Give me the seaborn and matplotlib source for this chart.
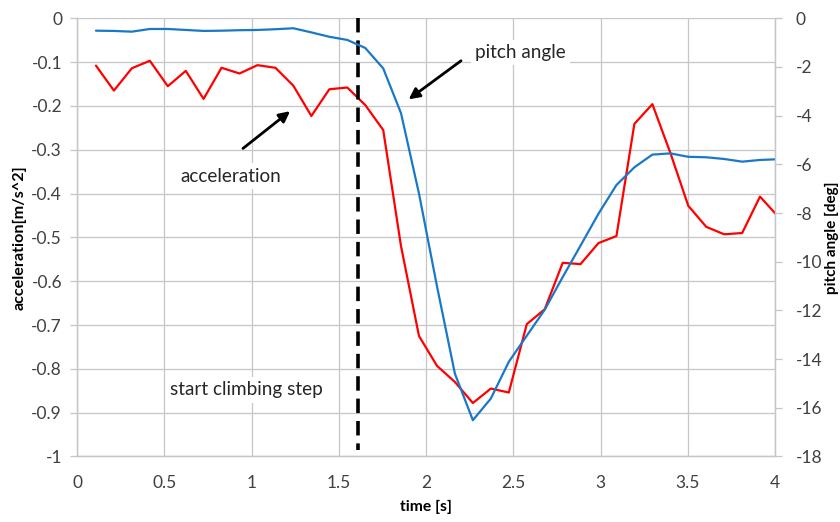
import matplotlib
matplotlib.use('Agg')
import matplotlib.pyplot as plt
from matplotlib.ticker import FuncFormatter, MultipleLocator
import pandas as pd
import seaborn as sns

# samples, ~0.103 s apart
time = [0.107, 0.210, 0.313, 0.416, 0.519, 0.622, 0.724, 0.827, 0.930, 1.033,
        1.136, 1.239, 1.342, 1.445, 1.548, 1.651, 1.754, 1.856, 1.959, 2.062,
        2.165, 2.268, 2.371, 2.474, 2.577, 2.680, 2.783, 2.885, 2.988, 3.091,
        3.194, 3.297, 3.400, 3.503, 3.606, 3.709, 3.812, 3.914, 4.017]
acceleration = [-0.108, -0.165, -0.114, -0.097, -0.155, -0.120, -0.184, -0.113, -0.126, -0.107,
                -0.113, -0.154, -0.223, -0.162, -0.158, -0.198, -0.255, -0.520, -0.725, -0.793,
                -0.830, -0.878, -0.845, -0.854, -0.698, -0.664, -0.558, -0.561, -0.513, -0.497,
                -0.241, -0.196, -0.307, -0.428, -0.476, -0.493, -0.490, -0.407, -0.452]
pitch = [-0.51, -0.52, -0.55, -0.44, -0.44, -0.48, -0.52, -0.51, -0.49, -0.48,
         -0.45, -0.41, -0.58, -0.76, -0.89, -1.22, -2.06, -3.90, -7.20, -11.0,
         -14.6, -16.51, -15.62, -14.11, -13.04, -11.97, -10.63, -9.34, -8.03, -6.85,
         -6.12, -5.60, -5.55, -5.69, -5.71, -5.78, -5.89, -5.82, -5.79]
start_step = 1.611

df = pd.DataFrame({'time': time, 'acc': acceleration, 'pitch': pitch})

sns.set_style('white')
plt.rcParams['font.family'] = ['Lato', 'DejaVu Sans']
plt.rcParams['axes.unicode_minus'] = False

grid_c = '#c6c6c6'
txt_c = '#404040'
fmt = FuncFormatter(lambda v, p: '{:g}'.format(round(v, 2)))

fig = plt.figure(figsize=(8.4, 5.22), dpi=100)
ax = fig.add_axes([0.092, 0.1255, 0.8306, 0.8395])
ax2 = ax.twinx()

sns.lineplot(data=df, x='time', y='acc', ax=ax, color='#ff0000', linewidth=1.6)
sns.lineplot(data=df, x='time', y='pitch', ax=ax2, color='#1a78c8', linewidth=1.6)

ax.set_xlim(0, 4)
ax.set_ylim(-1, 0)
ax2.set_ylim(-18, 0)
ax.xaxis.set_major_locator(MultipleLocator(0.5))
ax.yaxis.set_major_locator(MultipleLocator(0.1))
ax2.yaxis.set_major_locator(MultipleLocator(2))
ax.xaxis.set_major_formatter(fmt)
ax.yaxis.set_major_formatter(fmt)
ax2.yaxis.set_major_formatter(fmt)

ax.grid(True, color=grid_c, linewidth=0.9)
ax.set_axisbelow(True)
for a in (ax, ax2):
    for s in a.spines.values():
        s.set_color(grid_c)
        s.set_linewidth(0.9)
    a.spines['top'].set_visible(False)
    a.tick_params(colors=grid_c, labelcolor=txt_c, labelsize=12.5, length=5, width=0.9,
                  direction='out', pad=6)
ax.tick_params(axis='x', pad=8)
ax2.tick_params(axis='y', pad=10)

ax.set_xlabel('time [s]', fontsize=11.3, fontweight='bold', color='black', labelpad=7)
ax.set_ylabel('acceleration[m/s^2]', fontsize=11.6, fontweight='bold', color='black')
ax2.set_ylabel('pitch angle [deg]', fontsize=11, fontweight='bold', color='black')
ax.yaxis.set_label_coords(-0.072, 0.5)
ax2.yaxis.set_label_coords(1.0716, 0.5)

# start of climbing step
ax.plot([start_step, start_step], [0, -0.985], color='black', linewidth=2.6,
        linestyle=(0, (4, 2.2)))

box = dict(facecolor='white', edgecolor='none', pad=3)
arrow = dict(arrowstyle='-|>', color='black', lw=2, mutation_scale=16, shrinkA=0, shrinkB=0)
ax.annotate('', xy=(1.9, -0.185), xytext=(2.2, -0.097), arrowprops=arrow)
ax.text(2.54, -0.078, 'pitch angle', fontsize=13.6, color='#262626', ha='center', va='center', bbox=box)
ax.annotate('', xy=(1.22, -0.212), xytext=(0.95, -0.297), arrowprops=arrow)
ax.text(0.88, -0.36, 'acceleration', fontsize=13.6, color='#262626', ha='center', va='center', bbox=box)
ax.text(0.97, -0.848, 'start climbing step', fontsize=13.6, color='#262626', ha='center', va='center', bbox=box)

fig.savefig('out.png', dpi=100)
